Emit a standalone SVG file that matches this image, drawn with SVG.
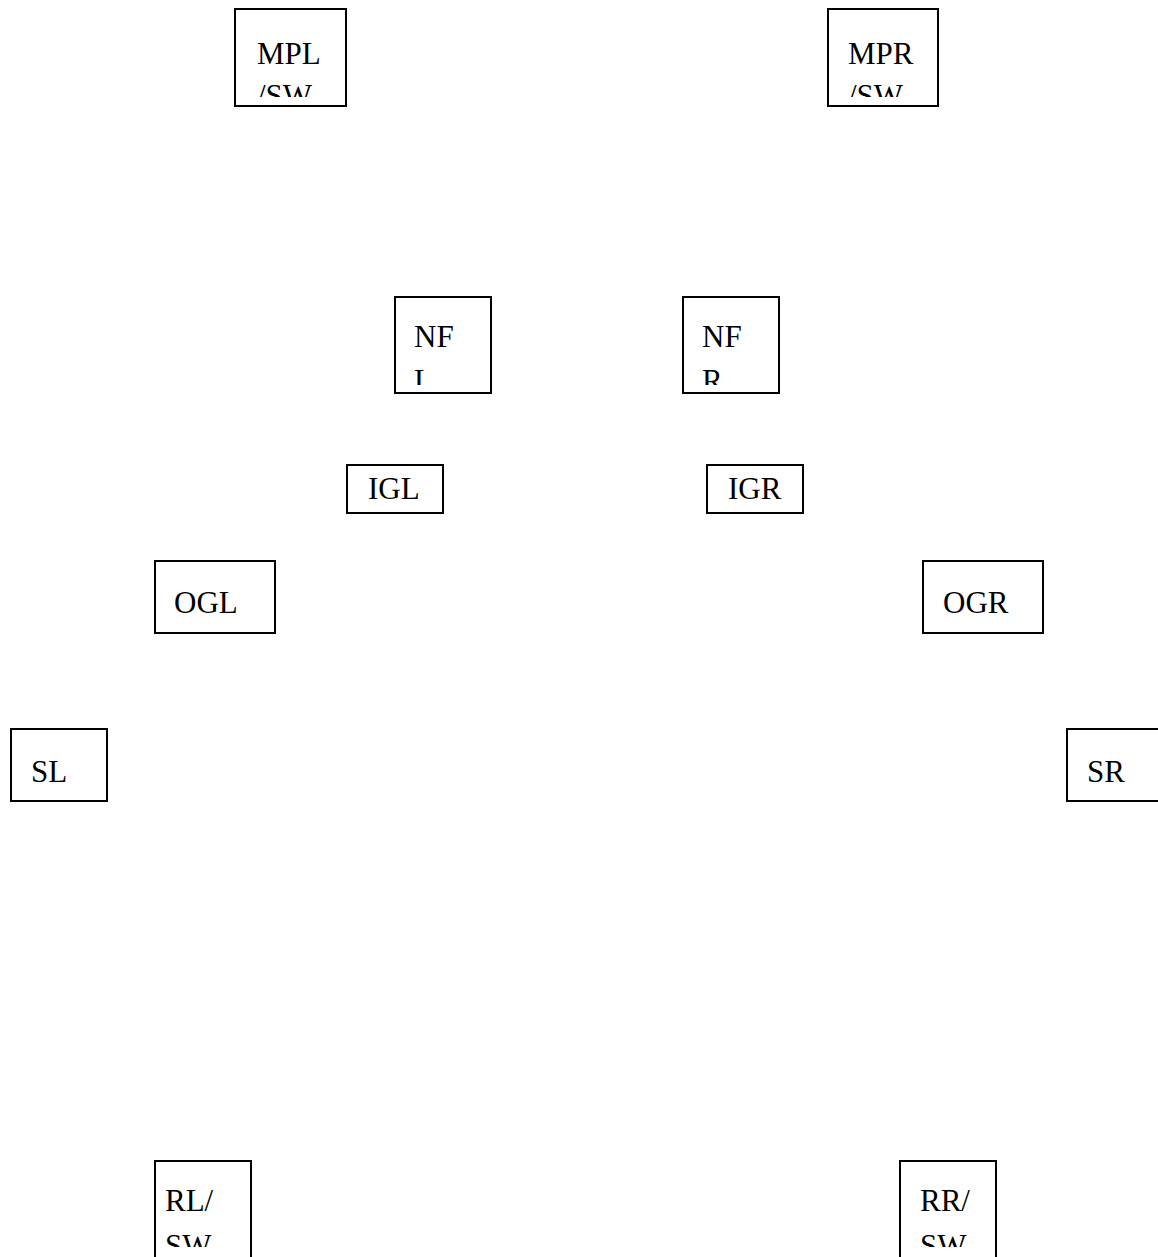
<svg xmlns="http://www.w3.org/2000/svg" width="1158" height="1257" viewBox="0 0 1158 1257">
<style>
rect.box{fill:#fff;stroke:#000;stroke-width:2}
text{font-family:"Liberation Serif","Times New Roman",serif;font-size:31px;fill:#000}
</style>
<defs>
<clipPath id="c1"><rect x="235" y="9" width="111" height="88"/></clipPath>
<clipPath id="c2"><rect x="828" y="9" width="110" height="88"/></clipPath>
<clipPath id="c3"><rect x="395" y="297" width="96" height="88"/></clipPath>
<clipPath id="c4"><rect x="683" y="297" width="96" height="88"/></clipPath>
<clipPath id="c5"><rect x="155" y="1161" width="96" height="86"/></clipPath>
<clipPath id="c6"><rect x="900" y="1161" width="96" height="86"/></clipPath>
</defs>
<rect width="1158" height="1257" fill="#fff"/>
<g id="connectors"/>
<g id="MPL"><rect class="box" x="235" y="9" width="111" height="97"/><g clip-path="url(#c1)"><text x="257" y="64">MPL</text><text x="257" y="106">/SW</text></g></g>
<g id="MPR"><rect class="box" x="828" y="9" width="110" height="97"/><g clip-path="url(#c2)"><text x="848" y="64">MPR</text><text x="848" y="106">/SW</text></g></g>
<g id="NFL"><rect class="box" x="395" y="297" width="96" height="96"/><g clip-path="url(#c3)"><text x="414" y="347">NF</text><text x="414" y="391">L</text></g></g>
<g id="NFR"><rect class="box" x="683" y="297" width="96" height="96"/><g clip-path="url(#c4)"><text x="702" y="347">NF</text><text x="702" y="391">R</text></g></g>
<g id="IGL"><rect class="box" x="347" y="465" width="96" height="48"/><text x="368" y="499">IGL</text></g>
<g id="IGR"><rect class="box" x="707" y="465" width="96" height="48"/><text x="728" y="499">IGR</text></g>
<g id="OGL"><rect class="box" x="155" y="561" width="120" height="72"/><text x="174" y="613">OGL</text></g>
<g id="OGR"><rect class="box" x="923" y="561" width="120" height="72"/><text x="943" y="613">OGR</text></g>
<g id="SL"><rect class="box" x="11" y="729" width="96" height="72"/><text x="31" y="782">SL</text></g>
<g id="SR"><rect class="box" x="1067" y="729" width="96" height="72"/><text x="1087" y="782">SR</text></g>
<g id="RL"><rect class="box" x="155" y="1161" width="96" height="100"/><g clip-path="url(#c5)"><text x="165" y="1211">RL/</text><text x="165" y="1256">SW</text></g></g>
<g id="RR"><rect class="box" x="900" y="1161" width="96" height="100"/><g clip-path="url(#c6)"><text x="920" y="1211">RR/</text><text x="920" y="1256">SW</text></g></g>
</svg>
